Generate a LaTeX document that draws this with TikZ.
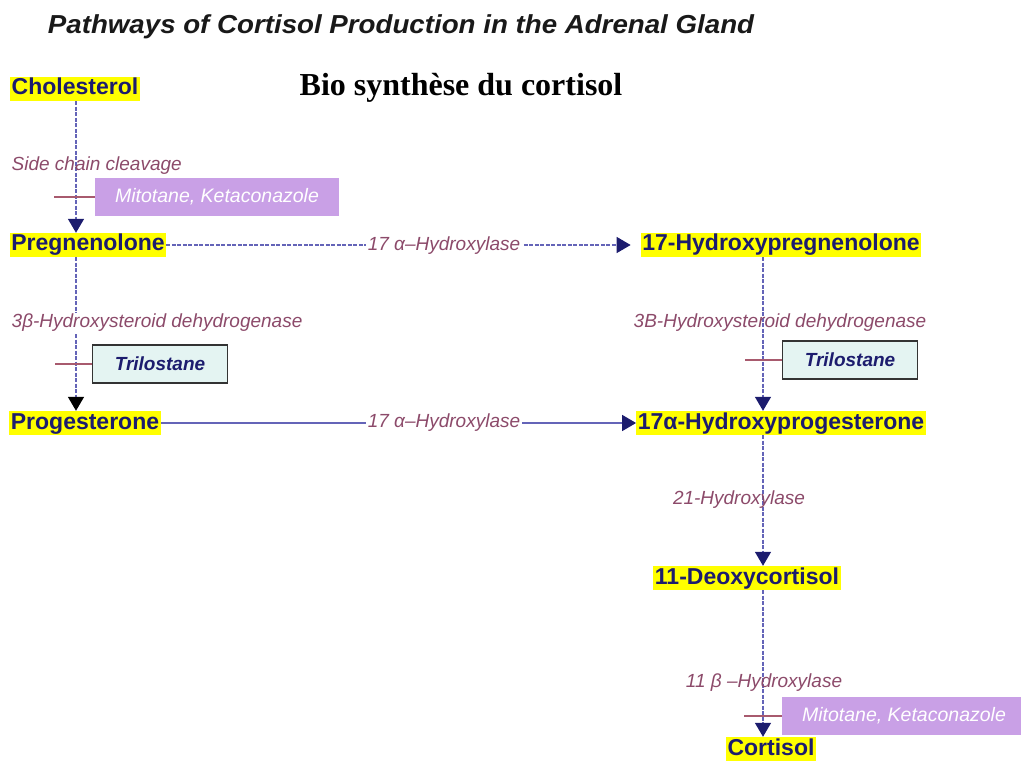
\documentclass[tikz,border=0pt]{standalone}
\usepackage{graphicx}
\usepackage{fontspec}
\setmainfont{Liberation Sans}
\newfontfamily\seriffont{Liberation Serif}
\usetikzlibrary{arrows.meta}
\definecolor{navy}{HTML}{1C1C6E}
\definecolor{hilite}{HTML}{FFFF00}
\definecolor{enzyme}{HTML}{8C4A6A}
\definecolor{pathline}{HTML}{6464B8}
\definecolor{inhibit}{HTML}{A85A6E}
\definecolor{drugpurple}{HTML}{C9A0E6}
\definecolor{drugcyan}{HTML}{E4F4F2}
\tikzset{
    cmpd/.style={fill=hilite, text=navy, font=\fontsize{23}{23}\selectfont\bfseries,
        inner xsep=1.5pt, inner ysep=1pt, text height=17pt, text depth=5pt},
    enz/.style={text=enzyme, font=\fontsize{19}{19}\selectfont\itshape, inner sep=1.5pt},
    drugbox/.style={fill=drugpurple, text=white, font=\fontsize{19.5}{19.5}\selectfont\itshape,
        minimum height=38pt, minimum width=244pt},
    trilo/.style={draw=black!80, line width=1.8pt, fill=drugcyan, text=navy,
        font=\fontsize{19}{19}\selectfont\bfseries\itshape, minimum height=38pt, minimum width=135pt},
    pathway/.style={draw=pathline, line width=1.5pt, dash pattern=on 4pt off 1.5pt,
        -{Triangle[length=14pt,width=16pt,color=#1]}},
    pathway/.default=navy,
    inhib/.style={draw=inhibit, line width=1.8pt}
}
\begin{document}
\begin{tikzpicture}[x=1pt,y=-1pt]
    \useasboundingbox (0,0) rectangle (1021,762);
    % titles
    \node[text=black!90, font=\fontsize{26}{26}\selectfont\bfseries\itshape] (title) at (401,27)
        {\scalebox{1.065}[1]{Pathways of Cortisol Production in the Adrenal Gland}};
    \node[font=\fontsize{32}{32}\selectfont\seriffont\bfseries] (bio) at (461,88) {Bio synthèse du cortisol};
    % compounds
    \node[cmpd] (chol) at (75,89) {Cholesterol};
    \node[cmpd] (preg) at (88,245) {Pregnenolone};
    \node[cmpd] (prog) at (85,423) {Progesterone};
    \node[cmpd] (hpreg) at (781,245) {17-Hydroxypregnenolone};
    \node[cmpd] (hprog) at (781,423) {17α-Hydroxyprogesterone};
    \node[cmpd] (deoxy) at (747,578) {11-Deoxycortisol};
    \node[cmpd] (cort) at (771,749) {Cortisol};
    \coordinate (lcol) at (76,0);
    \coordinate (rcol) at (763,0);
    % inhibitors
    \node[drugbox] (mito1) at (217,197) {Mitotane, Ketaconazole};
    \node[trilo] (tri1) at (160,364) {Trilostane};
    \node[trilo] (tri2) at (850,360) {Trilostane};
    \node[drugbox] (mito2) at (904,716) {Mitotane, Ketaconazole};
    % steps
    \draw[pathway] (chol.south -| lcol) -- (preg.north -| lcol);
    \draw[pathway=black] (preg.south -| lcol) -- (prog.north -| lcol);
    \draw[pathway, shorten >=10pt] (preg.east) -- (hpreg.west);
    \draw[pathway, solid] (prog.east) -- (hprog.west);
    \draw[pathway] (hpreg.south -| rcol) -- (hprog.north -| rcol);
    \draw[pathway] (hprog.south -| rcol) -- (deoxy.north -| rcol);
    \draw[pathway] (deoxy.south -| rcol) -- (cort.north -| rcol);
    % blocks
    \draw[inhib] (mito1.west) -- ++(-41,0);
    \draw[inhib] (tri1.west) -- ++(-37,0);
    \draw[inhib] (tri2.west) -- ++(-37,0);
    \draw[inhib] (mito2.west) -- ++(-38,0);
    % enzymes
    \node[enz, anchor=west] (scc) at (10,166) {Side chain cleavage};
    \node[enz, fill=white] (hyd1) at (444,246) {17 α–Hydroxylase};
    \node[enz, fill=white] (hyd2) at (444,423) {17 α–Hydroxylase};
    \node[enz, fill=white, anchor=west] (hsd1) at (10,323) {3β-Hydroxysteroid dehydrogenase};
    \node[enz] (hsd2) at (780,323) {3B-Hydroxysteroid dehydrogenase};
    \node[enz] (hyd21) at (739,500) {21-Hydroxylase};
    \node[enz] (hyd11) at (764,683) {11 β –Hydroxylase};
\end{tikzpicture}
\end{document}
